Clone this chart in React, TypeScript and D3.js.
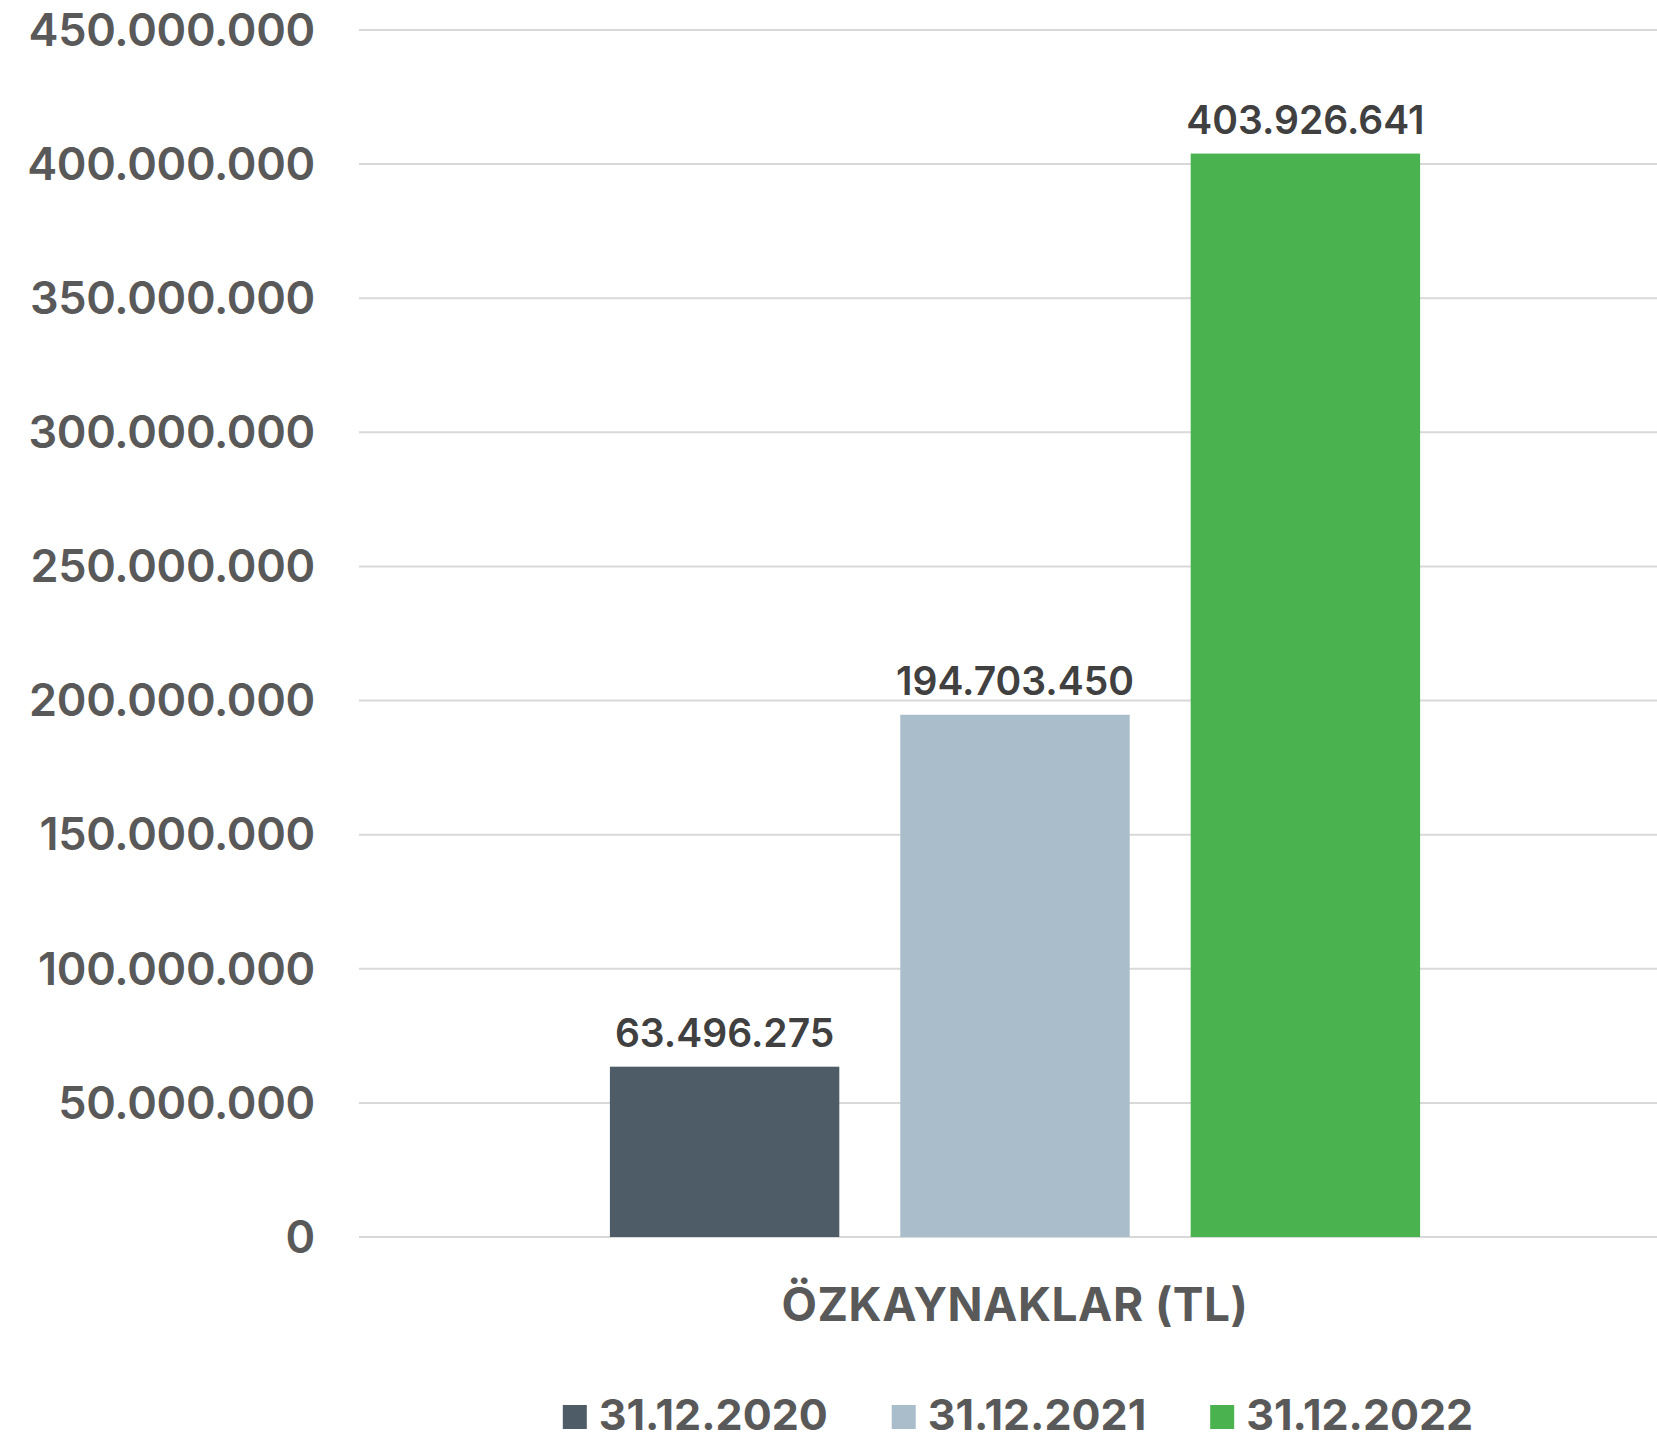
import React, { useEffect, useRef } from 'react';
import * as d3 from 'd3';

const categories = ['ÖZKAYNAKLAR (TL)'];
const seriesNames = ['31.12.2020', '31.12.2021', '31.12.2022'];
const seriesValues = [63496275, 194703450, 403926641];
const seriesColors = ['#4e5c68', '#aabdcb', '#4ab24f'];
const yTicks = [0, 50000000, 100000000, 150000000, 200000000, 250000000, 300000000, 350000000, 400000000, 450000000];

const W = 1657;
const H = 1442;

const App: React.FC = () => {
  const svgRef = useRef<SVGSVGElement>(null);

  useEffect(() => {
    document.body.style.margin = '0';
    if (!svgRef.current) return;

    const svg = d3.select(svgRef.current);
    svg.selectAll('*').remove();

    const font = 'Inter, "Open Sans", sans-serif';
    const tr = d3.formatLocale({ decimal: ',', thousands: '.', grouping: [3], currency: ['', ''] });
    const fmt = tr.format(',d');

    const plotLeft = 359;
    const plotRight = 1671;

    const y = d3.scaleLinear().domain([0, 450000000]).range([1237, 30]);

    const x0 = d3.scaleBand<string>()
      .domain(categories)
      .range([plotLeft, plotRight])
      .paddingInner(0)
      .paddingOuter(0.253);

    const x1 = d3.scaleBand<string>()
      .domain(seriesNames)
      .range([0, x0.bandwidth()])
      .paddingInner(0.21)
      .paddingOuter(0.105);

    // grid
    svg.append('g')
      .selectAll('line')
      .data(yTicks)
      .join('line')
      .attr('x1', plotLeft)
      .attr('x2', W)
      .attr('y1', d => y(d))
      .attr('y2', d => y(d))
      .attr('stroke', '#d9d9d9')
      .attr('stroke-width', 2);

    // y labels
    svg.append('g')
      .selectAll('text')
      .data(yTicks)
      .join('text')
      .attr('x', 315)
      .attr('y', d => y(d))
      .attr('dy', '0.35em')
      .attr('text-anchor', 'end')
      .attr('fill', '#595959')
      .style('font-family', font)
      .style('font-size', '45px')
      .style('font-weight', 600)
      .style('letter-spacing', '-0.3px')
      .text(d => fmt(d));

    // bars + value labels
    const cat = categories[0];
    const bars = svg.append('g').attr('transform', `translate(${x0(cat)},0)`);
    seriesNames.forEach((name, i) => {
      const v = seriesValues[i];
      bars.append('rect')
        .attr('x', x1(name)!)
        .attr('y', y(v))
        .attr('width', x1.bandwidth())
        .attr('height', y(0) - y(v))
        .attr('fill', seriesColors[i]);

      bars.append('text')
        .attr('x', x1(name)! + x1.bandwidth() / 2)
        .attr('y', y(v) - 20)
        .attr('text-anchor', 'middle')
        .attr('fill', '#404040')
        .style('font-family', font)
        .style('font-size', '39px')
        .style('font-weight', 600)
        .text(fmt(v));
    });

    // category label
    svg.append('text')
      .attr('x', x0(cat)! + x0.bandwidth() / 2)
      .attr('y', 1321)
      .attr('text-anchor', 'middle')
      .attr('fill', '#595959')
      .style('font-family', font)
      .style('font-size', '46px')
      .style('font-weight', 700)
      .style('letter-spacing', '0.5px')
      .text(cat);

    // legend
    const legend = svg.append('g');
    const items = seriesNames.map((name, i) => {
      const g = legend.append('g');
      g.append('rect')
        .attr('x', 0)
        .attr('y', -25)
        .attr('width', 24)
        .attr('height', 24)
        .attr('fill', seriesColors[i]);
      const t = g.append('text')
        .attr('x', 36)
        .attr('y', 0)
        .attr('fill', '#595959')
        .style('font-family', font)
        .style('font-size', '43px')
        .style('font-weight', 700)
        .text(name);
      const tw = (t.node() as SVGTextElement).getComputedTextLength();
      return { g, w: 36 + tw };
    });
    const gap = 64;
    const total = d3.sum(items, d => d.w) + gap * (items.length - 1);
    let cx = 1018 - total / 2;
    items.forEach(it => {
      it.g.attr('transform', `translate(${cx},1430)`);
      cx += it.w + gap;
    });
  }, []);

  return (
    <div style={{ background: '#fff', width: W, height: H }}>
      <svg ref={svgRef} width={W} height={H}></svg>
    </div>
  );
};

export default App;
